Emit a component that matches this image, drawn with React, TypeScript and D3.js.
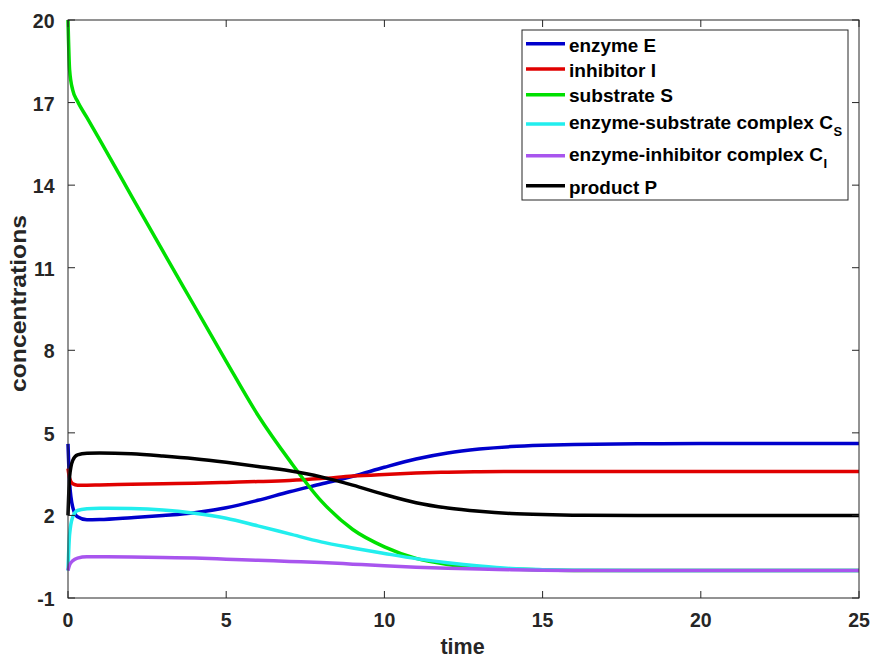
import React, { useEffect, useRef } from "react";
import * as d3 from "d3";

// time samples
const times = [0, 0.05, 0.15, 0.3, 0.6, 1, 2, 3, 4, 5, 6, 7, 8, 9, 10, 11, 12, 13, 14, 15, 16, 18, 20, 22, 25];

const enzymeE = [4.6, 3.2, 2.3, 1.95, 1.84, 1.85, 1.92, 2.0, 2.1, 2.28, 2.55, 2.86, 3.14, 3.42, 3.75, 4.05, 4.27, 4.41, 4.5, 4.55, 4.58, 4.6, 4.61, 4.61, 4.61];
const inhibitorI = [3.7, 3.35, 3.15, 3.1, 3.1, 3.11, 3.13, 3.15, 3.17, 3.2, 3.23, 3.27, 3.34, 3.43, 3.49, 3.54, 3.57, 3.59, 3.6, 3.6, 3.6, 3.6, 3.6, 3.6, 3.6];
const substrateS = [20, 18.2, 17.45, 17.05, 16.45, 15.65, 13.62, 11.6, 9.6, 7.6, 5.65, 4.0, 2.53, 1.49, 0.86, 0.44, 0.22, 0.1, 0.05, 0.02, 0, 0, 0, 0, 0];
const complexCS = [0, 1.3, 1.95, 2.18, 2.24, 2.26, 2.25, 2.2, 2.08, 1.9, 1.62, 1.33, 1.04, 0.82, 0.62, 0.43, 0.28, 0.16, 0.07, 0.03, 0.01, 0, 0, 0, 0];
const complexCI = [0, 0.2, 0.35, 0.45, 0.5, 0.5, 0.49, 0.47, 0.45, 0.41, 0.37, 0.33, 0.29, 0.23, 0.17, 0.12, 0.08, 0.05, 0.03, 0.01, 0, 0, 0, 0, 0];
const productP = [2.0, 3.4, 4.0, 4.2, 4.26, 4.27, 4.24, 4.16, 4.06, 3.93, 3.78, 3.62, 3.4, 3.1, 2.76, 2.46, 2.27, 2.15, 2.07, 2.03, 2.01, 2.0, 2.0, 2.0, 2.0];

const xTicks = [0, 5, 10, 15, 20, 25];
const yTicks = [-1, 2, 5, 8, 11, 14, 17, 20];

const seriesNames = ["enzyme E", "inhibitor I", "substrate S", "enzyme-substrate complex C", "enzyme-inhibitor complex C", "product P"];
const seriesSubs = ["", "", "", "S", "I", ""];
const seriesColors = ["#0000cc", "#e00000", "#00e000", "#22eeee", "#a855ee", "#000000"];
const seriesValues = [enzymeE, inhibitorI, substrateS, complexCS, complexCI, productP];

const W = 875;
const H = 659;
const margin = { top: 20, right: 16, bottom: 61, left: 68 };
const FONT = "'Liberation Sans', Arial, sans-serif";
const AXIS = "#262626";

export default function App() {
  const ref = useRef<SVGSVGElement>(null);

  useEffect(() => {
    const svg = d3.select(ref.current);
    svg.selectAll("*").remove();

    const width = W - margin.left - margin.right;
    const height = H - margin.top - margin.bottom;

    const x = d3.scaleLinear().domain([0, 25]).range([0, width]);
    const y = d3.scaleLinear().domain([-1, 20]).range([height, 0]);

    const g = svg.append("g").attr("transform", `translate(${margin.left},${margin.top})`);

    g.append("rect").attr("width", width).attr("height", height).attr("fill", "#fff");

    const line = d3
      .line<number>()
      .x((_, i) => x(times[i]))
      .y((d) => y(d))
      .curve(d3.curveMonotoneX);

    const plot = g.append("g");
    seriesValues.forEach((vals, i) => {
      plot
        .append("path")
        .datum(vals)
        .attr("fill", "none")
        .attr("stroke", seriesColors[i])
        .attr("stroke-width", 3.5)
        .attr("stroke-linejoin", "round")
        .attr("d", line);
    });

    // box with inward ticks on all four sides
    g.append("rect")
      .attr("width", width)
      .attr("height", height)
      .attr("fill", "none")
      .attr("stroke", AXIS)
      .attr("stroke-width", 1);

    const tickLen = 7;
    xTicks.forEach((t) => {
      g.append("line").attr("x1", x(t)).attr("x2", x(t)).attr("y1", height).attr("y2", height - tickLen).attr("stroke", AXIS);
      g.append("line").attr("x1", x(t)).attr("x2", x(t)).attr("y1", 0).attr("y2", tickLen).attr("stroke", AXIS);
      g.append("text")
        .attr("x", x(t))
        .attr("y", height + 29)
        .attr("text-anchor", "middle")
        .attr("font-family", FONT)
        .attr("font-weight", "bold")
        .attr("font-size", 19.5)
        .attr("fill", AXIS)
        .text(t);
    });
    yTicks.forEach((v) => {
      g.append("line").attr("x1", 0).attr("x2", tickLen).attr("y1", y(v)).attr("y2", y(v)).attr("stroke", AXIS);
      g.append("line").attr("x1", width).attr("x2", width - tickLen).attr("y1", y(v)).attr("y2", y(v)).attr("stroke", AXIS);
      g.append("text")
        .attr("x", -13.5)
        .attr("y", y(v) + 8)
        .attr("text-anchor", "end")
        .attr("font-family", FONT)
        .attr("font-weight", "bold")
        .attr("font-size", 19.5)
        .attr("fill", AXIS)
        .text(v);
    });

    // axis labels
    g.append("text")
      .attr("x", 462.5 - margin.left)
      .attr("y", 654 - margin.top)
      .attr("text-anchor", "middle")
      .attr("font-family", FONT)
      .attr("font-weight", "bold")
      .attr("font-size", 21.5)
      .attr("fill", AXIS)
      .text("time");
    g.append("text")
      .attr("transform", `translate(${26 - margin.left},${303.5 - margin.top}) rotate(-90)`)
      .attr("text-anchor", "middle")
      .attr("font-family", FONT)
      .attr("font-weight", "bold")
      .attr("font-size", 22)
      .attr("textLength", 177)
      .attr("lengthAdjust", "spacingAndGlyphs")
      .attr("fill", AXIS)
      .text("concentrations");

    // legend
    const lg = svg.append("g").attr("transform", "translate(522,30)");
    lg.append("rect").attr("width", 326).attr("height", 170).attr("fill", "#fff").attr("stroke", AXIS).attr("stroke-width", 1);
    const rowY = [13.8, 39, 64.7, 94, 125.7, 155.7];
    const baseY = [21.7, 47.3, 72.3, 99, 131, 164.3];
    const textW = [87, 87, 104, 264, 254, 88];
    seriesNames.forEach((name, i) => {
      lg.append("line")
        .attr("x1", 4)
        .attr("x2", 43)
        .attr("y1", rowY[i])
        .attr("y2", rowY[i])
        .attr("stroke", seriesColors[i])
        .attr("stroke-width", 3.5);
      lg.append("text")
        .attr("x", 47)
        .attr("y", baseY[i])
        .attr("font-family", FONT)
        .attr("font-weight", "bold")
        .attr("font-size", 17.5)
        .attr("textLength", textW[i])
        .attr("lengthAdjust", "spacingAndGlyphs")
        .attr("fill", "#000")
        .text(name);
      if (seriesSubs[i]) {
        lg.append("text")
          .attr("x", 47 + textW[i] + 0.5)
          .attr("y", baseY[i] + 6.5)
          .attr("font-family", FONT)
          .attr("font-weight", "bold")
          .attr("font-size", 13)
          .attr("fill", "#000")
          .text(seriesSubs[i]);
      }
    });
  }, []);

  return (
    <svg
      ref={ref}
      width={W}
      height={H}
      style={{ position: "absolute", left: 0, top: 0, background: "#fff" }}
    />
  );
}
